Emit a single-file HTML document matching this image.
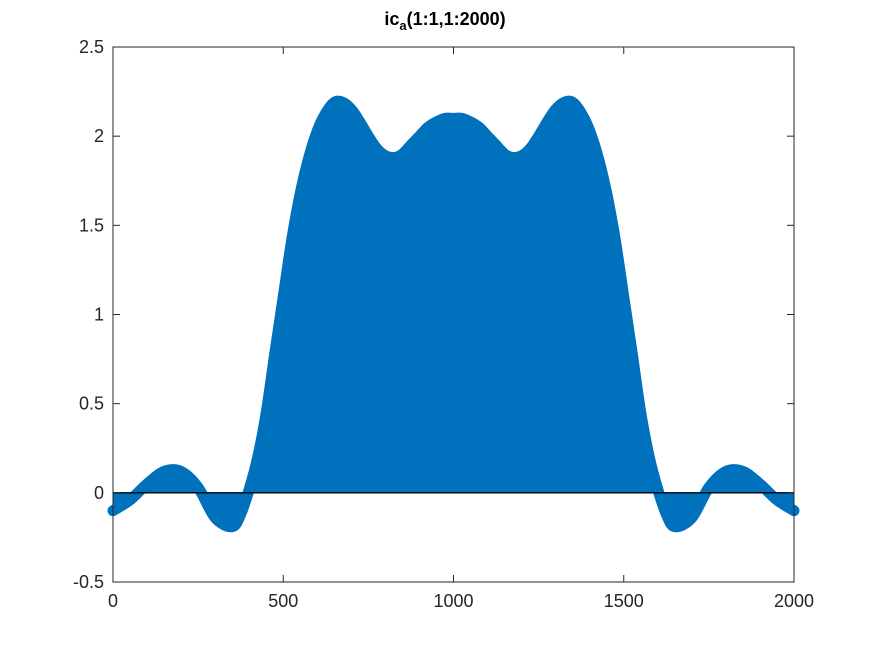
<!DOCTYPE html>
<html><head><meta charset="utf-8"><style>
body{margin:0;background:#fff;}
svg{display:block;font-family:"Liberation Sans",sans-serif;}
</style></head><body>
<svg id="chart" width="876" height="654">
<rect width="876" height="654" fill="#fff"/>
<g id="plot"></g>
<text x="445" y="25" text-anchor="middle" font-size="18" font-weight="bold">ic<tspan font-size="13" dy="5">a</tspan><tspan dy="-5">(1:1,1:2000)</tspan></text>
</svg>
<script>
const xs=[0,50,100,150,200,250,300,350,375,400,425,450,475,500,525,550,575,600,625,650,675,700,725,750,775,800,825,850,875,900,925,950,975,1000];
const halfVals=[-0.10,-0.04,0.05,0.12,0.12,0.03,-0.14,-0.19,-0.12,0.02,0.2,0.45,0.78,1.1,1.42,1.68,1.88,2.03,2.13,2.19,2.19,2.15,2.08,2.0,1.93,1.89,1.88,1.9,1.95,2.0,2.05,2.08,2.1,2.1];
const xTicks=[0,500,1000,1500,2000];
const yTicks=[-0.5,0,0.5,1,1.5,2,2.5];
const yTickLabels=["-0.5","0","0.5","1","1.5","2","2.5"];
const L=113,R=794,T=47,B=582;
const X=v=>L+(v/2000)*(R-L);
const Y=v=>B-((v+0.5)/3)*(B-T);
const NS="http://www.w3.org/2000/svg";
const g=document.getElementById('plot');
function el(t,a){const e=document.createElementNS(NS,t);for(const k in a)e.setAttribute(k,a[k]);g.appendChild(e);return e;}
const px=[],py=[];
xs.forEach((x,i)=>{px.push(x);py.push(halfVals[i]);});
for(let i=xs.length-2;i>=0;i--){px.push(2000-xs[i]);py.push(halfVals[i]);}
const pts=px.map((x,i)=>[X(x),Y(py[i])]);
function spline(p){let d=`M${p[0][0]},${p[0][1]}`;for(let i=0;i<p.length-1;i++){const p0=p[i-1]||p[i],p1=p[i],p2=p[i+1],p3=p[i+2]||p2;d+=` C${p1[0]+(p2[0]-p0[0])/6},${p1[1]+(p2[1]-p0[1])/6} ${p2[0]-(p3[0]-p1[0])/6},${p2[1]-(p3[1]-p1[1])/6} ${p2[0]},${p2[1]}`;}return d;}
const curve=spline(pts);
const z=Y(0);
const fill=el('path',{d:curve+` L${X(2000)},${z} L${X(0)},${z} Z`,fill:'#0072BD'});


const mk=el('path',{d:curve,fill:'none',stroke:'#0072BD','stroke-width':11,'stroke-linecap':'round','stroke-linejoin':'round'});


const zl=el('line',{x1:L,x2:R,y1:z,y2:z,stroke:'#000','stroke-width':1.3});


const box=el('rect',{x:L,y:T,width:R-L,height:B-T,fill:'none',stroke:'#262626','stroke-width':1});


xTicks.forEach(t=>{const x=X(t);
el('line',{x1:x,x2:x,y1:B,y2:B-7,stroke:'#262626'});el('line',{x1:x,x2:x,y1:T,y2:T+7,stroke:'#262626'});
const tx=el('text',{x:x,y:B+25,'text-anchor':'middle','font-size':18,fill:'#262626'});tx.textContent=t;

});
yTicks.forEach((t,i)=>{const y=Y(t);
el('line',{x1:L,x2:L+7,y1:y,y2:y,stroke:'#262626'});el('line',{x1:R,x2:R-7,y1:y,y2:y,stroke:'#262626'});
const tx=el('text',{x:L-9,y:y+6,'text-anchor':'end','font-size':18,fill:'#262626'});tx.textContent=yTickLabels[i];

});
</script>
</body></html>
